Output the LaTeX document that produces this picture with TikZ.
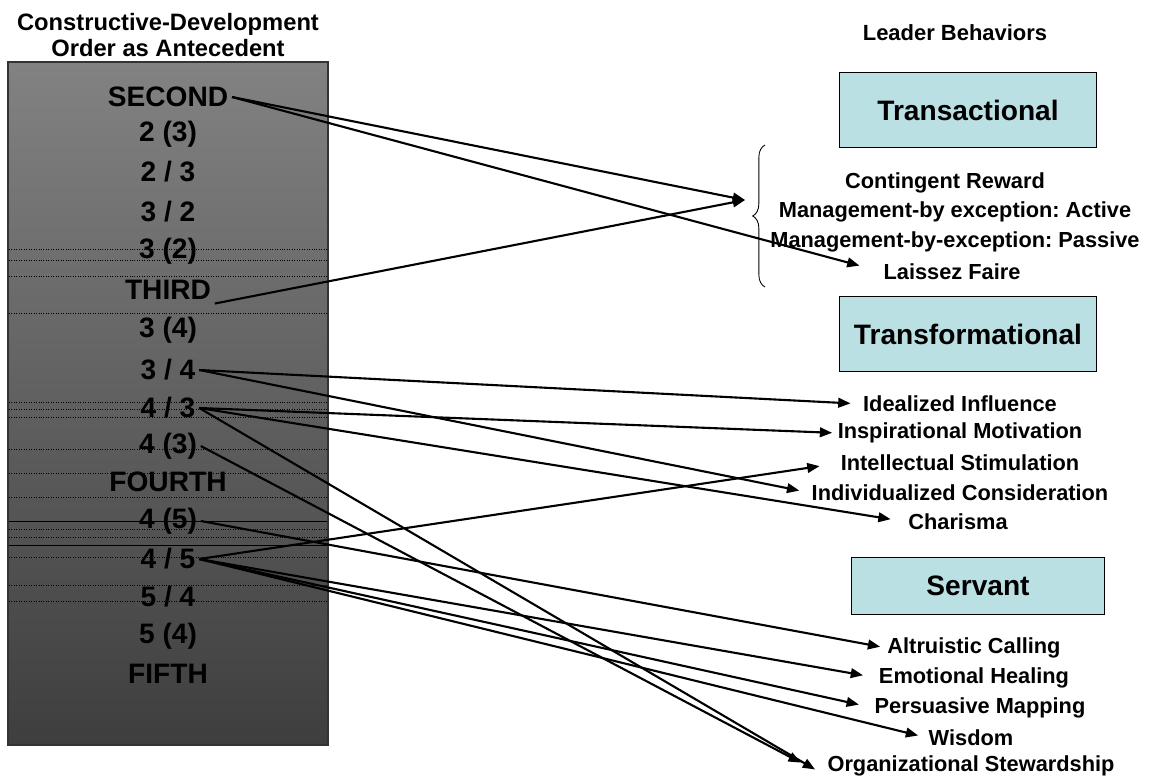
\documentclass[tikz,border=0pt]{standalone}
\usepackage{fontspec}
\setmainfont{Liberation Sans}
\usetikzlibrary{positioning, arrows.meta, decorations.pathreplacing}
\definecolor{boxtop}{RGB}{130,130,130}
\definecolor{boxbot}{RGB}{62,62,62}
\definecolor{catfill}{RGB}{187,224,228}
\frenchspacing

\begin{document}
\begin{tikzpicture}[x=0.02cm, y=-0.02cm,
	>={Triangle[length=7pt, width=5.5pt]},
	link/.style={->, line width=1.2pt},
	lvl/.style={font=\bfseries\fontsize{16}{19}\selectfont, inner sep=2pt},
	cat/.style={draw, fill=catfill, line width=0.6pt, minimum width=5.14cm, minimum height=1.5cm, font=\bfseries\fontsize{16}{19}\selectfont},
	beh/.style={font=\bfseries\fontsize{12.4}{14}\selectfont, inner sep=0pt},
	rule/.style={densely dotted, line width=0.4pt}]

	\useasboundingbox (0,0) rectangle (1149,781);

	% antecedent column
	\node[font=\bfseries\fontsize{13.5}{14.5}\selectfont, align=center] (hdr) at (168,35) {Constructive-Development\\Order as Antecedent};
	\shade[top color=boxtop, bottom color=boxbot, draw=black!80, line width=0.8pt] (8,62) rectangle (328,745);
	\foreach \yy in {249,260,276,313,402,409,417,449,473,497,529,537,557,585,601} {
		\draw[rule] (9,\yy) -- (327,\yy);
	};
	\draw[line width=0.4pt] (9,521) -- (327,521);
	\draw[line width=0.4pt] (9,545) -- (327,545);

	\node[lvl] (second) at (168,97) {SECOND};
	\node[lvl] (s2p3) at (168,134) {2 (3)};
	\node[lvl] (s23) at (168,172) {2 / 3};
	\node[lvl] (s32) at (168,212) {3 / 2};
	\node[lvl] (s3p2) at (168,251) {3 (2)};
	\node[lvl] (third) at (168,290) {THIRD};
	\node[lvl] (s3p4) at (168,330) {3 (4)};
	\node[lvl] (s34) at (168,370) {3 / 4};
	\node[lvl] (s43) at (168,408) {4 / 3};
	\node[lvl] (s4p3) at (168,446) {4 (3)};
	\node[lvl] (fourth) at (168,482) {FOURTH};
	\node[lvl] (s4p5) at (168,521) {4 (5)};
	\node[lvl] (s45) at (168,559) {4 / 5};
	\node[lvl] (s54) at (168,597) {5 / 4};
	\node[lvl] (s5p4) at (168,636) {5 (4)};
	\node[lvl] (fifth) at (168,674) {FIFTH};

	% behaviors
	\node[font=\bfseries\fontsize{12.5}{15}\selectfont] (lead) at (955,33) {Leader Behaviors};

	\node[cat] (trans) at (968,110) {Transactional};
	\node[beh] (cr) at (945,183) {Contingent Reward};
	\node[beh] (mba) at (955,212) {Management-by exception: Active};
	\node[beh] (mbp) at (955,242) {Management-by-exception: Passive};
	\node[beh] (laissez) at (952,272) {Laissez Faire};
	\draw[decorate, decoration={brace, amplitude=7pt}, line width=0.5pt] (765,287) -- (765,145);
	\coordinate (brtip) at (745,200);

	\node[cat] (transf) at (968,334) {Transformational};
	\node[beh] (ideal) at (960,404) {Idealized Influence};
	\node[beh] (inspir) at (960,433) {Inspirational Motivation};
	\node[beh] (intell) at (960,463) {Intellectual Stimulation};
	\node[beh] (indiv) at (960,493) {Individualized Consideration};
	\node[beh] (charisma) at (958,522) {Charisma};

	\node[cat, minimum width=5.06cm, minimum height=1.14cm] (servant) at (978,586) {Servant};
	\node[beh] (altru) at (974,648) {Altruistic Calling};
	\node[beh] (emot) at (974,678) {Emotional Healing};
	\node[beh] (persu) at (980,708) {Persuasive Mapping};
	\node[beh] (wisdom) at (971,738) {Wisdom};
	\node[beh] (org) at (971,766) {Organizational Stewardship};

	% links
	\draw[link] (second.east) -- (brtip);
	\draw[link, shorten >=14pt] (second.east) -- (laissez.west);
	\draw[link] (third.south east) -- (brtip);

	\draw[link, shorten >=7pt] (s34.east) -- (ideal.west);
	\draw[link, shorten >=7pt] (s34.east) -- (indiv.west);
	\draw[link, shorten >=3pt] (s43.east) -- (inspir.west);
	\draw[link, shorten >=10pt] (s43.east) -- (charisma.west);
	\draw[link, shorten >=8pt] (s43.east) -- (org.south west);
	\draw[link, shorten >=17pt] (s4p3.east) -- (org.south west);

	\draw[link, shorten >=4pt] (s4p5.east) -- (altru.west);
	\draw[link, shorten >=12pt] (s45.east) -- (intell.west);
	\draw[link, shorten >=9pt] (s45.east) -- (emot.west);
	\draw[link, shorten >=9pt] (s45.east) -- (persu.west);
	\draw[link, shorten >=6pt] (s45.east) -- (wisdom.west);
\end{tikzpicture}
\end{document}
